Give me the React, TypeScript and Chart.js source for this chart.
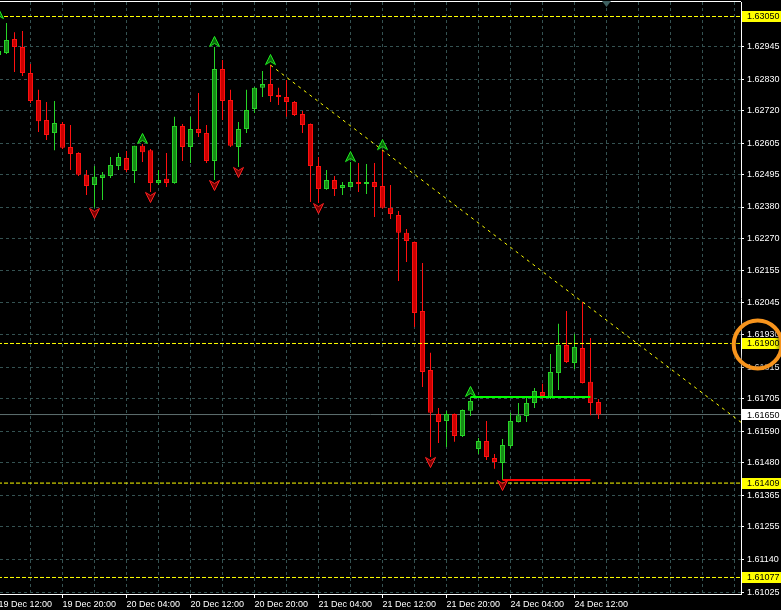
import React, { useEffect, useRef } from 'react';
import { Chart, registerables } from 'chart.js';

Chart.register(...registerables);

// ---- hourly candles, index 0 = 19 Dec 12:00 ----
const OPEN = [
  1.62915, 1.62922, 1.62971, 1.62943, 1.62851, 1.62756, 1.62686, 1.62640, 1.62672, 1.62591,
  1.62570, 1.62493, 1.62457, 1.62482, 1.62489, 1.62524, 1.62552, 1.62507, 1.62595, 1.62580,
  1.62464, 1.62479, 1.62464, 1.62665, 1.62591, 1.62654, 1.62640, 1.62542, 1.62865, 1.62756,
  1.62591, 1.62654, 1.62725, 1.62799, 1.62813, 1.62774, 1.62767, 1.62749, 1.62707, 1.62672,
  1.62524, 1.62443, 1.62475, 1.62447, 1.62450, 1.62468, 1.62461, 1.62468, 1.62454, 1.62377,
  1.62352, 1.62289, 1.62257, 1.62014, 1.61807, 1.61652, 1.61627, 1.61652, 1.61575, 1.61663,
  1.61529, 1.61557, 1.61497, 1.61480, 1.61539, 1.61624, 1.61645, 1.61691, 1.61729, 1.61712,
  1.61796, 1.61895, 1.61831, 1.61884, 1.61765, 1.61694,
];
const HIGH = [
  1.63041, 1.63027, 1.62995, 1.62999, 1.62883, 1.62792, 1.62749, 1.62753, 1.62679, 1.62668,
  1.62573, 1.62510, 1.62524, 1.62503, 1.62556, 1.62570, 1.62577, 1.62595, 1.62602, 1.62584,
  1.62510, 1.62570, 1.62697, 1.62672, 1.62697, 1.62781, 1.62668, 1.62943, 1.62897, 1.62792,
  1.62679, 1.62792, 1.62802, 1.62858, 1.62879, 1.62799, 1.62827, 1.62753, 1.62718, 1.62674,
  1.62556, 1.62510, 1.62489, 1.62468, 1.62538, 1.62535, 1.62531, 1.62535, 1.62580, 1.62457,
  1.62366, 1.62303, 1.62259, 1.62183, 1.61867, 1.61673, 1.61663, 1.61654, 1.61668, 1.61712,
  1.61568, 1.61627, 1.61511, 1.61564, 1.61656, 1.61691, 1.61708, 1.61743, 1.61758, 1.61863,
  1.61969, 1.62014, 1.61933, 1.62046, 1.61919, 1.61705,
];
const LOW = [
  1.62904, 1.62918, 1.62855, 1.62841, 1.62746, 1.62644, 1.62616, 1.62580, 1.62584, 1.62510,
  1.62489, 1.62422, 1.62377, 1.62405, 1.62482, 1.62510, 1.62503, 1.62464, 1.62538, 1.62433,
  1.62457, 1.62450, 1.62462, 1.62542, 1.62535, 1.62626, 1.62535, 1.62475, 1.62686, 1.62591,
  1.62521, 1.62640, 1.62711, 1.62767, 1.62749, 1.62739, 1.62697, 1.62700, 1.62640, 1.62398,
  1.62394, 1.62441, 1.62419, 1.62422, 1.62448, 1.62433, 1.62426, 1.62345, 1.62375, 1.62338,
  1.62120, 1.62187, 1.61958, 1.61747, 1.61501, 1.61550, 1.61536, 1.61554, 1.61571, 1.61645,
  1.61511, 1.61490, 1.61459, 1.61420, 1.61532, 1.61622, 1.61624, 1.61673, 1.61705, 1.61705,
  1.61736, 1.61831, 1.61810, 1.61759, 1.61648, 1.61634,
];
const CLOSE = [
  1.62929, 1.62967, 1.62943, 1.62851, 1.62753, 1.62682, 1.62633, 1.62675, 1.62588, 1.62566,
  1.62493, 1.62454, 1.62486, 1.62493, 1.62528, 1.62556, 1.62510, 1.62595, 1.62573, 1.62464,
  1.62475, 1.62464, 1.62665, 1.62591, 1.62654, 1.62640, 1.62542, 1.62865, 1.62753, 1.62595,
  1.62654, 1.62721, 1.62799, 1.62813, 1.62770, 1.62767, 1.62749, 1.62704, 1.62668, 1.62524,
  1.62443, 1.62475, 1.62443, 1.62457, 1.62468, 1.62461, 1.62468, 1.62450, 1.62377, 1.62355,
  1.62289, 1.62260, 1.62007, 1.61800, 1.61656, 1.61624, 1.61652, 1.61575, 1.61666, 1.61698,
  1.61557, 1.61501, 1.61483, 1.61543, 1.61627, 1.61648, 1.61691, 1.61733, 1.61715, 1.61800,
  1.61895, 1.61835, 1.61888, 1.61761, 1.61691, 1.61650,
];

const X_LABELS = [
  '19 Dec 12:00', '19 Dec 20:00', '20 Dec 04:00', '20 Dec 12:00', '20 Dec 20:00',
  '21 Dec 04:00', '21 Dec 12:00', '21 Dec 20:00', '24 Dec 04:00', '24 Dec 12:00',
];
const Y_TICKS = [
  1.61025, 1.61140, 1.61255, 1.61365, 1.61480, 1.61590, 1.61705, 1.61815, 1.61930,
  1.62045, 1.62155, 1.62270, 1.62380, 1.62495, 1.62605, 1.62720, 1.62830, 1.62945,
];
const LEVELS = [1.63050, 1.61900, 1.61409, 1.61077];
const BID = 1.61650;
const HIGHLIGHT_LEVEL = 1.61900;
const FRACTAL_UP = [0, 18, 27, 34, 44, 48, 59];
const FRACTAL_DOWN = [12, 19, 27, 30, 40, 54, 63];
const TREND_POINTS = [34, 73];
const RESIST_LINE = [59, 74];
const SUPPORT_LINE = [63, 74];
const SHIFT_INDEX = 76;

// ---- axis settings ----
const X_MIN = 0.1875;
const X_MAX = 92.8125;
const Y_MIN = 1.610189;
const Y_MAX = 1.63101;
const X_GRID_STEP = 4;
const X_LABEL_STEP = 8;

const FONT = 'Liberation Sans';
const GRID = '#355252';
const BULL_LINE = '#27d427';
const BULL_FILL = '#178c17';
const BEAR_LINE = '#ff1010';
const BEAR_FILL = '#cc0000';

function makeArrow(up: boolean, fill: string, stroke: string) {
  const c = document.createElement('canvas');
  c.width = 11;
  c.height = 22;
  const g = c.getContext('2d') as CanvasRenderingContext2D;
  g.beginPath();
  if (up) {
    g.moveTo(5.5, 0.5);
    g.lineTo(10.5, 10.5);
    g.lineTo(5.5, 7.5);
    g.lineTo(0.5, 10.5);
  } else {
    g.moveTo(5.5, 21.5);
    g.lineTo(10.5, 11.5);
    g.lineTo(5.5, 14.5);
    g.lineTo(0.5, 11.5);
  }
  g.closePath();
  g.fillStyle = fill;
  g.fill();
  g.strokeStyle = stroke;
  g.lineWidth = 1;
  g.stroke();
  return c;
}

const isBull = (i: number) => CLOSE[i] >= OPEN[i];

const overlay = {
  id: 'overlay',
  beforeDraw(chart: any) {
    const ctx = chart.ctx;
    ctx.save();
    ctx.fillStyle = '#000';
    ctx.fillRect(0, 0, chart.width, chart.height);
    ctx.restore();
  },
  afterDraw(chart: any) {
    const { ctx, chartArea } = chart;
    const ys = chart.scales.y;
    const xs = chart.scales.x;
    ctx.save();
    // top frame
    ctx.fillStyle = '#ffffff';
    ctx.fillRect(0, chartArea.top - 1, chartArea.right, 1);
    // chart shift marker
    const sx = xs.getPixelForValue(SHIFT_INDEX);
    ctx.fillStyle = '#3d5e5e';
    ctx.beginPath();
    ctx.moveTo(sx - 4.5, chartArea.top - 1);
    ctx.lineTo(sx + 4.5, chartArea.top - 1);
    ctx.lineTo(sx, chartArea.top + 5);
    ctx.closePath();
    ctx.fill();
    // price labels for levels
    ctx.font = `9px "${FONT}"`;
    ctx.textBaseline = 'middle';
    ctx.textAlign = 'left';
    const box = (v: number, bg: string) => {
      const y = ys.getPixelForValue(v);
      ctx.fillStyle = bg;
      ctx.fillRect(chartArea.right + 1, Math.round(y - 5.5), chart.width - chartArea.right - 1, 11);
      ctx.fillStyle = '#000';
      ctx.fillText(v.toFixed(5), chartArea.right + 6, y + 0.5);
    };
    LEVELS.forEach((v) => box(v, '#ffff00'));
    box(BID, '#ffffff');
    // orange highlight circle
    const cy = ys.getPixelForValue(HIGHLIGHT_LEVEL);
    ctx.shadowColor = 'rgba(0,0,0,0.85)';
    ctx.shadowBlur = 5;
    ctx.strokeStyle = '#f7941d';
    ctx.lineWidth = 4;
    ctx.beginPath();
    ctx.arc(chartArea.right + 16.7, cy + 1, 24, 0, Math.PI * 2);
    ctx.stroke();
    ctx.restore();
  },
};

export default function App() {
  const ref = useRef<HTMLCanvasElement>(null);

  useEffect(() => {
    const canvas = ref.current;
    if (!canvas) return;

    const upArrow = makeArrow(true, '#0a6a0a', '#20f020');
    const downArrow = makeArrow(false, '#7a0000', '#ff2020');

    const idx = OPEN.map((_, i) => i);
    const slope = (HIGH[TREND_POINTS[1]] - HIGH[TREND_POINTS[0]]) / (TREND_POINTS[1] - TREND_POINTS[0]);
    const trendEnd = X_MAX + 2;

    const levelSets = LEVELS.map((lv) => ({
      type: 'line' as const,
      data: [{ x: X_MIN - 1, y: lv }, { x: X_MAX + 1, y: lv }],
      borderColor: '#ffff00',
      borderWidth: 1,
      borderDash: [4, 2],
      pointRadius: 0,
      order: 3,
    }));

    const chart = new Chart(canvas, {
      type: 'bar',
      data: {
        datasets: [
          {
            type: 'line',
            data: [{ x: X_MIN - 1, y: BID }, { x: X_MAX + 1, y: BID }],
            borderColor: '#5f7070',
            borderWidth: 1,
            pointRadius: 0,
            order: 6,
          } as any,
          {
            type: 'bar',
            data: idx.map((i) => ({ x: i, y: [LOW[i], HIGH[i]] })),
            backgroundColor: (c: any) => (isBull(c.dataIndex) ? BULL_LINE : BEAR_LINE),
            borderWidth: 0,
            barThickness: 1,
            grouped: false,
            inflateAmount: 0,
            order: 5,
          } as any,
          {
            type: 'bar',
            data: idx.map((i) => ({ x: i, y: [OPEN[i], CLOSE[i]] })),
            backgroundColor: (c: any) => (isBull(c.dataIndex) ? BULL_FILL : BEAR_FILL),
            borderColor: (c: any) => (isBull(c.dataIndex) ? BULL_LINE : BEAR_LINE),
            borderWidth: 1,
            borderSkipped: false,
            barThickness: 5,
            grouped: false,
            inflateAmount: 0,
            order: 4,
          } as any,
          ...levelSets,
          {
            type: 'line',
            data: [
              { x: TREND_POINTS[0], y: HIGH[TREND_POINTS[0]] },
              { x: TREND_POINTS[1], y: HIGH[TREND_POINTS[1]] },
              { x: trendEnd, y: HIGH[TREND_POINTS[0]] + slope * (trendEnd - TREND_POINTS[0]) },
            ],
            borderColor: '#ffff00',
            borderWidth: 1,
            borderDash: [3, 4],
            pointRadius: 0,
            order: 2,
          } as any,
          {
            type: 'line',
            data: RESIST_LINE.map((x) => ({ x, y: HIGH[RESIST_LINE[0]] })),
            borderColor: '#00ff00',
            borderWidth: 2,
            pointRadius: 0,
            order: 1,
          } as any,
          {
            type: 'line',
            data: SUPPORT_LINE.map((x) => ({ x, y: LOW[SUPPORT_LINE[0]] })),
            borderColor: '#ff0000',
            borderWidth: 2,
            pointRadius: 0,
            order: 1,
          } as any,
          {
            type: 'line',
            data: FRACTAL_UP.map((i) => ({ x: i, y: HIGH[i] })),
            showLine: false,
            pointStyle: upArrow,
            pointRadius: 6,
            pointHoverRadius: 6,
            pointBorderWidth: 0,
            order: 0,
          } as any,
          {
            type: 'line',
            data: FRACTAL_DOWN.map((i) => ({ x: i, y: LOW[i] })),
            showLine: false,
            pointStyle: downArrow,
            pointRadius: 6,
            pointHoverRadius: 6,
            pointBorderWidth: 0,
            order: 0,
          } as any,
        ],
      },
      options: {
        responsive: false,
        animation: false,
        devicePixelRatio: 1,
        events: [],
        layout: { autoPadding: false, padding: { top: 2, left: 0, right: 0, bottom: 0 } },
        plugins: { legend: { display: false }, tooltip: { enabled: false } },
        scales: {
          x: {
            type: 'linear',
            min: X_MIN,
            max: X_MAX,
            bounds: 'data',
            offset: false,
            afterBuildTicks: (s: any) => {
              const t = [];
              for (let v = 0; v <= X_MAX; v += X_GRID_STEP) t.push({ value: v });
              s.ticks = t;
            },
            afterFit: (s: any) => {
              s.height = 16;
              s.paddingLeft = 0;
              s.paddingRight = 0;
              s.paddingTop = 0;
              s.paddingBottom = 0;
            },
            ticks: {
              autoSkip: false,
              maxRotation: 0,
              minRotation: 0,
              align: 'start',
              padding: 1,
              color: '#ffffff',
              font: { family: FONT, size: 9 },
              callback: (v: any) => {
                const n = Number(v);
                const k = n / X_LABEL_STEP;
                return n % X_LABEL_STEP === 0 && X_LABELS[k] ? X_LABELS[k] : '';
              },
            },
            grid: {
              offset: false,
              color: GRID,
              lineWidth: 1,
              drawTicks: true,
              tickLength: 4,
              tickColor: (c: any) => (c.tick && c.tick.label ? '#ffffff' : 'rgba(0,0,0,0)'),
            },
            border: { display: true, color: '#ffffff', width: 1, dash: [3, 3] },
          } as any,
          y: {
            type: 'linear',
            position: 'right',
            min: Y_MIN,
            max: Y_MAX,
            bounds: 'data',
            beginAtZero: false,
            afterBuildTicks: (s: any) => {
              s.ticks = Y_TICKS.map((v) => ({ value: v }));
            },
            afterFit: (s: any) => {
              s.width = 40;
              s.paddingLeft = 0;
              s.paddingRight = 0;
              s.paddingTop = 0;
              s.paddingBottom = 0;
            },
            ticks: {
              autoSkip: false,
              padding: 3,
              color: '#ffffff',
              font: { family: FONT, size: 9 },
              callback: (v: any) => Number(v).toFixed(5),
            },
            grid: {
              color: GRID,
              lineWidth: 1,
              drawTicks: true,
              tickLength: 3,
              tickColor: '#ffffff',
            },
            border: { display: true, color: '#ffffff', width: 1, dash: [3, 3] },
          } as any,
        },
      } as any,
      plugins: [overlay],
    });

    return () => chart.destroy();
  }, []);

  return (
    <div style={{ position: 'fixed', left: 0, top: 0, width: 781, height: 610, background: '#000' }}>
      <canvas ref={ref} width={781} height={610} style={{ display: 'block', width: 781, height: 610 }} />
    </div>
  );
}
